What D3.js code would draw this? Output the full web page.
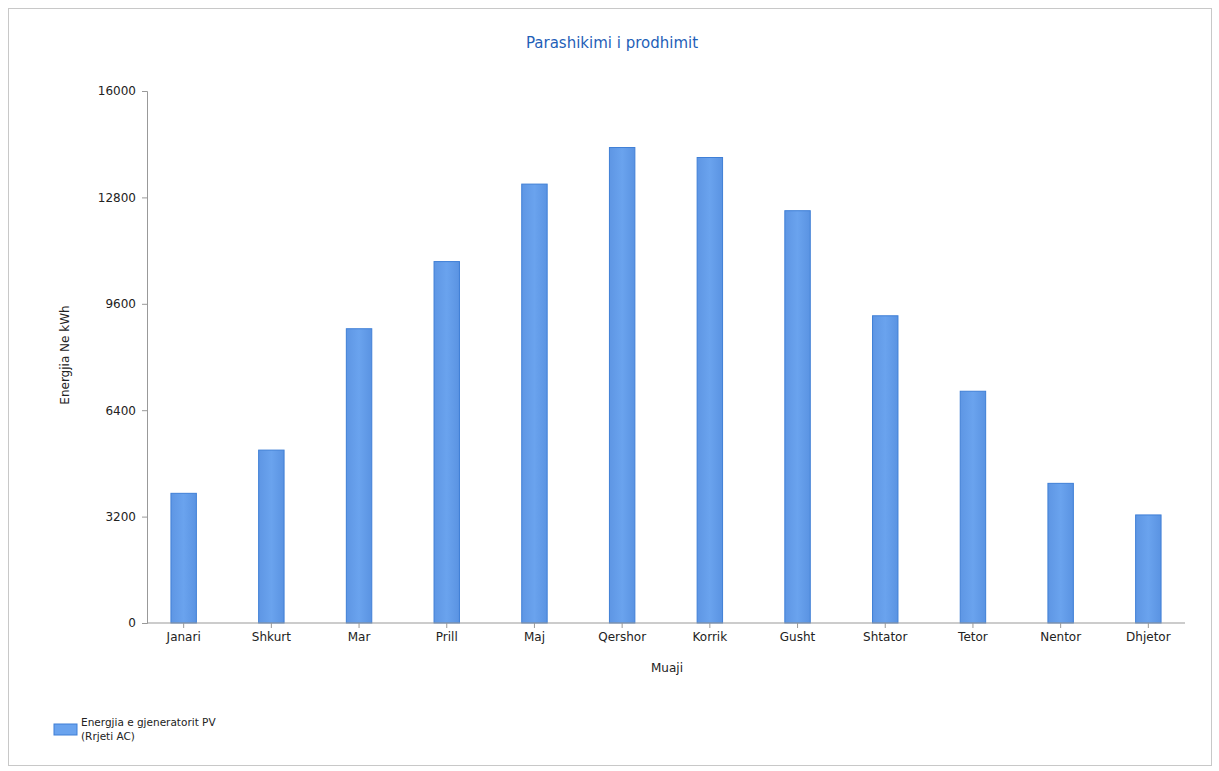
<!DOCTYPE html>
<html>
<head>
<meta charset="utf-8">
<script src="https://cdn.jsdelivr.net/npm/d3@7"></script>
<style>
  html, body { margin: 0; padding: 0; background: #fff; }
  svg { display: block; }
  text { font-family: "DejaVu Sans", Verdana, sans-serif; }
</style>
</head>
<body>
<svg id="chart" width="1219" height="771"></svg>
<script>
const months = ["Janari","Shkurt","Mar","Prill","Maj","Qershor","Korrik","Gusht","Shtator","Tetor","Nentor","Dhjetor"];
const energy = [3900, 5200, 8850, 10870, 13200, 14300, 14000, 12400, 9240, 6970, 4200, 3250];
const yTicks = [0, 3200, 6400, 9600, 12800, 16000];
const seriesName = ["Energjia e gjeneratorit PV", "(Rrjeti AC)"];
const title = "Parashikimi i prodhimit";
const xTitle = "Muaji";
const yTitle = "Energjia Ne kWh";

const svg = d3.select("#chart");
const W = 1219, H = 771;
const m = {left: 147, right: 1185, top: 91, bottom: 623};

// page frame
svg.append("rect").attr("x", 8.5).attr("y", 8.5).attr("width", W - 16).attr("height", H - 14)
  .attr("fill", "none").attr("stroke", "#c8c8c8").attr("stroke-width", 1);

const x = d3.scaleBand().domain(months).range([m.left, m.right]).paddingInner(0.71).paddingOuter(0.273);
const y = d3.scaleLinear().domain([0, 16000]).range([m.bottom, m.top]);

// bars
const grad = svg.append("defs").append("linearGradient").attr("id", "barg").attr("x1", 0).attr("x2", 1);
grad.append("stop").attr("offset", "0%").attr("stop-color", "#5e96e4");
grad.append("stop").attr("offset", "50%").attr("stop-color", "#6aa3ee");
grad.append("stop").attr("offset", "100%").attr("stop-color", "#5a93e2");

svg.append("g").selectAll("rect").data(energy).join("rect")
  .attr("x", (d, i) => x(months[i]))
  .attr("y", d => y(d))
  .attr("width", x.bandwidth())
  .attr("height", d => y(0) - y(d))
  .attr("fill", "url(#barg)")
  .attr("stroke", "#3f7fd6").attr("stroke-width", 1);

// axes
const yAxis = d3.axisLeft(y).tickValues(yTicks).tickSize(5).tickPadding(6).tickFormat(d3.format("d"));
const gy = svg.append("g").attr("transform", `translate(${m.left},0)`).call(yAxis);
const xAxis = d3.axisBottom(x).tickSize(5).tickPadding(4);
const gx = svg.append("g").attr("transform", `translate(0,${m.bottom})`).call(xAxis);
[gx, gy].forEach(g => {
  g.select(".domain").attr("stroke", "#999");
  g.selectAll(".tick line").attr("stroke", "#999");
  g.selectAll(".tick text").attr("fill", "#222").style("font-size", "12px");
});
gx.select(".domain").attr("d", `M${m.left},0H${m.right}`);

// title
svg.append("text").attr("x", 612).attr("y", 48).attr("text-anchor", "middle")
  .attr("fill", "#1f5fb8").style("font-size", "15px").text(title);

// axis titles
svg.append("text").attr("x", 667).attr("y", 672).attr("text-anchor", "middle")
  .attr("fill", "#222").style("font-size", "12px").text(xTitle);
svg.append("text").attr("transform", "translate(69,355) rotate(-90)").attr("text-anchor", "middle")
  .attr("fill", "#222").style("font-size", "12px").text(yTitle);

// legend
svg.append("rect").attr("x", 54).attr("y", 724).attr("width", 23).attr("height", 11)
  .attr("fill", "#6aa3ee").attr("stroke", "#3f7fd6");
svg.append("text").attr("x", 81).attr("y", 726).attr("fill", "#222").style("font-size", "10.5px")
  .selectAll("tspan").data(seriesName).join("tspan")
  .attr("x", 81).attr("dy", (d, i) => i === 0 ? 0 : 14).text(d => d);
</script>
</body>
</html>
